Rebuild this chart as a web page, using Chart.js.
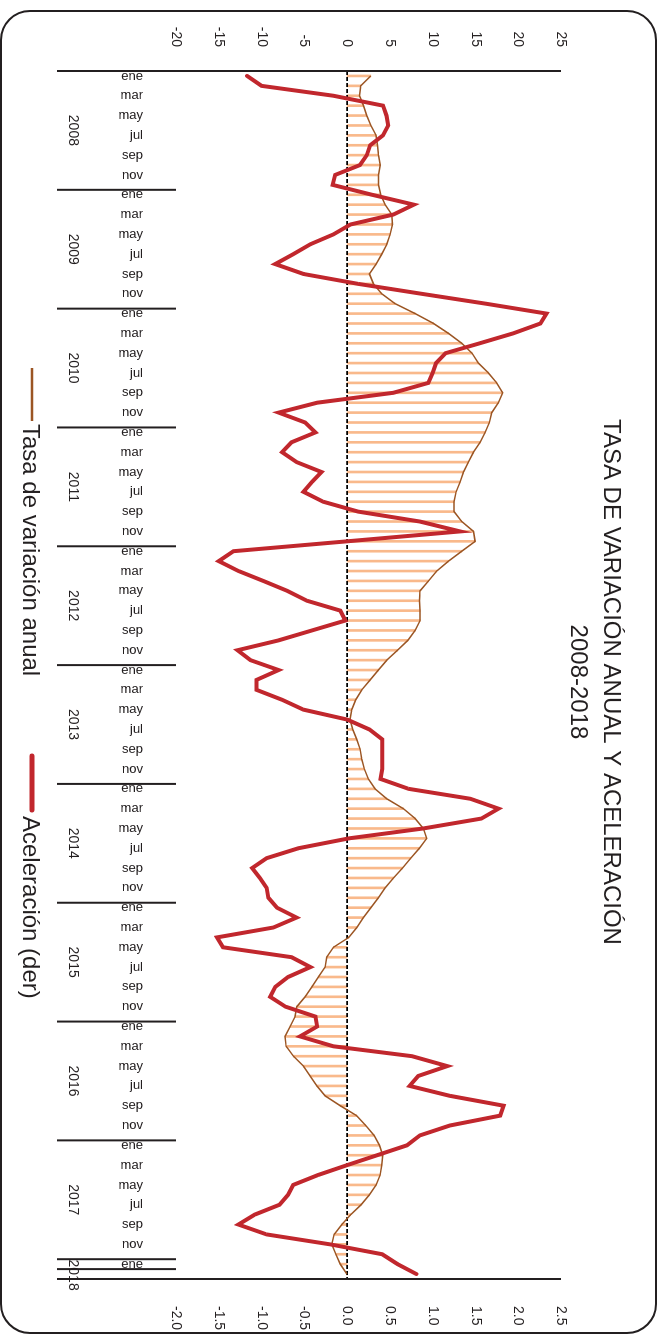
<!DOCTYPE html>
<html>
<head>
<meta charset="utf-8">
<script src="https://cdn.jsdelivr.net/npm/chart.js@4.4.1/dist/chart.umd.min.js"></script>
<style>
html,body{margin:0;padding:0;background:#fff;width:663px;height:1338px;overflow:hidden;}
#rot{position:absolute;left:0;top:0;width:1338px;height:663px;transform-origin:0 0;transform:translateX(663px) rotate(90deg);}
#frame{position:absolute;left:10px;top:6px;width:1324px;height:657px;border:2px solid #231f20;border-radius:30px;box-sizing:border-box;}
#c{position:absolute;left:0;top:0;width:1338px;height:663px;}
</style>
</head>
<body>
<div id="rot"><div id="frame"></div><canvas id="c" width="1338" height="663"></canvas></div>
<script>
// ---- data ----
const monthNames = ['ene','feb','mar','abr','may','jun','jul','ago','sep','oct','nov','dic'];
const years = ['2008','2009','2010','2011','2012','2013','2014','2015','2016','2017','2018'];
const lastYearMonths = 2; // ene-feb 2018
const title = 'TASA DE VARIACIÓN ANUAL Y ACELERACIÓN';
const subtitle = '2008-2018';
const seriesNames = ['Tasa de variación anual', 'Aceleración (der)'];

const tasa = [
  2.77,1.6,1.44,1.91,2.3,2.77,3.39,3.55,3.66,3.86,3.66,3.66,
  3.93,4.44,5.22,5.3,5.03,4.64,4.05,3.39,2.61,3.08,4.05,5.61,
  7.95,10.1,11.85,13.4,14.6,15.35,16.52,17.49,18.19,17.69,16.91,16.63,
  16.13,15.55,14.77,14.18,13.6,13.21,12.74,12.5,12.5,13.4,14.77,14.96,
  13.4,11.85,10.48,9.51,8.53,8.45,8.53,8.53,7.95,7.1,5.9,4.64,
  3.66,2.69,1.71,1.01,0.55,0.35,0.66,1.13,1.52,1.71,2.02,2.49,
  3.27,4.64,6.58,7.95,8.92,9.31,8.45,7.44,6.47,5.42,4.44,3.66,
  2.77,1.91,1.13,0.2,-1.6,-2.38,-2.57,-3.35,-4.13,-4.91,-5.88,-6.08,
  -6.66,-7.25,-7.13,-6.27,-5.1,-4.32,-3.54,-2.57,-0.8,1.1,2.18,3.16,
  3.78,4.17,4.05,3.86,3.39,2.61,1.64,0.43,-0.62,-1.52,-1.79,-1.32,
  -0.8,-0.04
];

const aceleracion = [
  -1.17,-1.0,-0.16,0.42,0.46,0.48,0.42,0.27,0.23,0.15,-0.14,-0.17,
  0.29,0.78,0.54,0.04,-0.16,-0.43,-0.63,-0.84,-0.51,0.13,0.87,1.62,
  2.33,2.26,1.94,1.55,1.15,1.04,1.0,0.95,0.54,-0.35,-0.8,-0.49,
  -0.37,-0.65,-0.76,-0.59,-0.3,-0.41,-0.51,-0.28,0.13,0.85,1.32,0.0,
  -1.33,-1.5,-1.27,-0.98,-0.7,-0.47,-0.08,-0.02,-0.41,-0.8,-1.28,-1.13,
  -0.8,-1.06,-1.06,-0.76,-0.51,0.0,0.26,0.41,0.41,0.41,0.41,0.39,
  0.72,1.44,1.77,1.57,0.89,0.02,-0.57,-0.94,-1.11,-1.02,-0.94,-0.92,
  -0.82,-0.59,-0.86,-1.52,-1.45,-0.65,-0.43,-0.69,-0.84,-0.9,-0.72,-0.37,
  -0.35,-0.55,-0.16,0.76,1.17,0.83,0.73,1.2,1.83,1.79,1.2,0.85,
  0.7,0.35,0.0,-0.34,-0.63,-0.69,-0.79,-1.08,-1.27,-0.94,-0.2,0.41,
  0.59,0.81
];

// categories: month of each point
const categories = [];
years.forEach((y, k) => {
  const n = (k === years.length - 1) ? lastYearMonths : 12;
  for (let m = 0; m < n; m++) categories.push(monthNames[m] + ' ' + y);
});

// ---- styling ----
const DARK = '#231f20';
const FONT = "'Liberation Sans', Arial, sans-serif";
const RED = '#c1272d';
const BROWN = '#9b5523';
const ORANGE = '#f9b98b';

const decor = {
  id: 'decor',
  afterDatasetDraw(chart, args) {
    if (args.index !== 2) return;
    const {ctx, chartArea: a} = chart;
    const py = chart.scales.y.getPixelForValue(0);
    ctx.save();
    ctx.strokeStyle = '#000';
    ctx.lineWidth = 1.6;
    ctx.setLineDash([4, 2]);
    ctx.beginPath(); ctx.moveTo(a.left, py); ctx.lineTo(a.right, py); ctx.stroke();
    ctx.restore();
  },
  afterDraw(chart) {
    const {ctx, chartArea: a} = chart;
    const x = chart.scales.x;
    const n = categories.length;
    const bw = x.getPixelForValue(1) - x.getPixelForValue(0);
    const edge = i => x.getPixelForValue(i) - bw / 2;
    const yEnd = 606;
    ctx.save();
    ctx.strokeStyle = DARK;
    ctx.lineWidth = 2;
    const vline = (px, y0, y1) => { ctx.beginPath(); ctx.moveTo(px, y0); ctx.lineTo(px, y1); ctx.stroke(); };
    vline(edge(0), a.top, yEnd);
    vline(edge(n), a.top, yEnd);
    for (let k = 1; k < years.length; k++) vline(edge(12 * k), a.bottom, yEnd);
    vline(edge(n - 1), a.bottom, yEnd);

    // year labels
    ctx.fillStyle = DARK;
    ctx.font = '14px ' + FONT;
    ctx.textAlign = 'center';
    ctx.textBaseline = 'middle';
    years.forEach((yr, k) => {
      const s = 12 * k, e = Math.min(12 * k + 12, n);
      const cx = (edge(s) + edge(e)) / 2 + (e - s < 12 ? 6 : 0);
      ctx.fillText(yr, cx, 590);
    });

    // title
    ctx.font = '24px ' + FONT;
    ctx.fillText(title, 682, 52);
    ctx.fillText(subtitle, 682, 85);

    // legend
    ctx.textAlign = 'left';
    ctx.font = '24px ' + FONT;
    ctx.lineCap = 'butt';
    ctx.strokeStyle = BROWN; ctx.lineWidth = 2.5;
    ctx.beginPath(); ctx.moveTo(368, 631); ctx.lineTo(421, 631); ctx.stroke();
    ctx.fillText(seriesNames[0], 424, 633);
    ctx.strokeStyle = RED; ctx.lineWidth = 5; ctx.lineCap = 'round';
    ctx.beginPath(); ctx.moveTo(756, 631); ctx.lineTo(810, 631); ctx.stroke();
    ctx.fillText(seriesNames[1], 816, 633);
    ctx.restore();
  }
};

new Chart(document.getElementById('c'), {
  data: {
    labels: categories,
    datasets: [
      { type: 'line', label: seriesNames[1], data: aceleracion, yAxisID: 'y1',
        borderColor: RED, borderWidth: 4, pointRadius: 0, tension: 0,
        borderJoinStyle: 'miter', borderCapStyle: 'round', order: 1 },
      { type: 'line', label: seriesNames[0], data: tasa, yAxisID: 'y',
        borderColor: BROWN, borderWidth: 1.5, pointRadius: 0, tension: 0, order: 2 },
      { type: 'bar', label: seriesNames[0] + ' (relleno)', data: tasa, yAxisID: 'y',
        backgroundColor: ORANGE, barThickness: 2, order: 3 }
    ]
  },
  options: {
    responsive: false,
    animation: false,
    events: [],
    layout: { padding: { top: 102, left: 0, right: 0, bottom: 0 } },
    plugins: { legend: { display: false }, tooltip: { enabled: false }, title: { display: false } },
    scales: {
      x: {
        type: 'category',
        offset: true,
        grid: { display: false, drawTicks: false },
        border: { display: false },
        ticks: {
          autoSkip: false, maxRotation: 90, minRotation: 90, padding: 33,
          color: DARK, font: { family: FONT, size: 13 },
          callback: (v, i) => (i % 2 === 0 ? monthNames[i % 12] : '')
        },
        afterFit: s => { s.height = 176; }
      },
      y: {
        position: 'left', min: -20, max: 25,
        grid: { display: false, drawTicks: false },
        border: { display: false },
        ticks: { stepSize: 5, padding: 24, color: DARK, font: { family: FONT, size: 14 } },
        afterFit: s => { s.width = 71; }
      },
      y1: {
        position: 'right', min: -2, max: 2.5,
        grid: { display: false, drawTicks: false },
        border: { display: false },
        ticks: { stepSize: 0.5, padding: 27, color: DARK, font: { family: FONT, size: 14 },
          callback: v => v.toFixed(1) },
        afterFit: s => { s.width = 59; }
      }
    }
  },
  plugins: [decor]
});
</script>
</body>
</html>
